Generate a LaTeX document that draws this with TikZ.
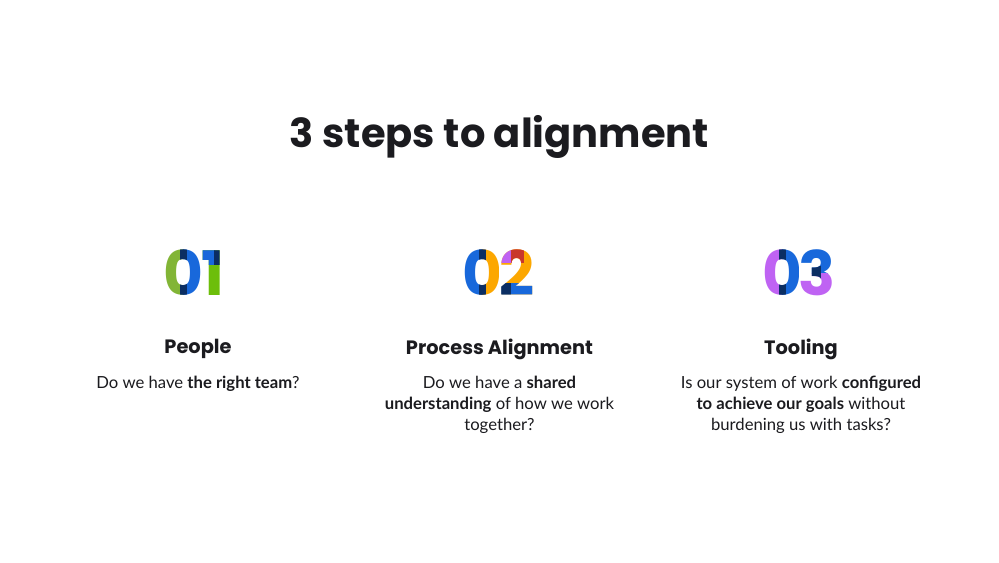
\documentclass[tikz,border=0pt]{standalone}
\usepackage{fontspec}
\setmainfont{Lato}
\newfontfamily\headfont{Poppins}[UprightFont=* Bold,BoldFont=* Bold]
\definecolor{ink}{HTML}{1B1B1F}
\definecolor{cgreen}{HTML}{82B536}
\definecolor{clime}{HTML}{6DBE0A}
\definecolor{cblue}{HTML}{1868DB}
\definecolor{cnavy}{HTML}{0B2E63}
\definecolor{corange}{HTML}{FCA700}
\definecolor{cpink}{HTML}{BF63F3}
\definecolor{cred}{HTML}{C9372C}
\tikzset{
  digit/.style={font=\headfont\fontsize{46}{46}\selectfont, inner sep=0pt, anchor=center},
  heading/.style={font=\headfont\fontsize{14.5}{18}\selectfont, text=ink},
  body/.style={font=\fontsize{12.5}{16}\selectfont, text=ink, align=center}
}
% one digit, painted in a colour inside a clip box
\newcommand{\paintdigit}[5]{%
  \begin{scope}\clip #4; \node[digit,text=#5] at (#1,#2) {#3};\end{scope}}
\begin{document}
\begin{tikzpicture}[x=0.75pt,y=-0.75pt]
\useasboundingbox[fill=white] (0,0) rectangle (999,562);
\node[font=\headfont\fontsize{30}{34}\selectfont, text=ink] (title) at (499.5,137) {3 steps to alignment};
% 01
\paintdigit{183}{273}{0}{(150,230) rectangle (183,310)}{cgreen}
\paintdigit{183}{273}{0}{(183,230) rectangle (200,310)}{cblue}
\paintdigit{183}{273}{0}{(180,230) rectangle (186,310)}{cnavy}
\paintdigit{213}{273}{1}{(200,230) rectangle (240,310)}{clime}
\paintdigit{213}{273}{1}{(200,230) rectangle (214,264)}{cblue}
\paintdigit{213}{273}{1}{(214,230) rectangle (240,264)}{cnavy}
% 02
\paintdigit{482}{273}{0}{(460,230) rectangle (482,310)}{cblue}
\paintdigit{482}{273}{0}{(482,230) rectangle (498,310)}{corange}
\paintdigit{482}{273}{0}{(479,230) rectangle (485,310)}{cnavy}
\paintdigit{517}{273}{2}{(498,230) rectangle (545,310)}{corange}
\paintdigit{517}{273}{2}{(498,283) rectangle (545,310)}{cblue}
\paintdigit{517}{273}{2}{(498,283) rectangle (510,310)}{cnavy}
\paintdigit{517}{273}{2}{(498,230) rectangle (511,262)}{cpink}
\paintdigit{517}{273}{2}{(511,230) rectangle (523,262)}{cred}
% 03
\paintdigit{782}{273}{0}{(760,230) rectangle (782,310)}{cpink}
\paintdigit{782}{273}{0}{(782,230) rectangle (798,310)}{cblue}
\paintdigit{782}{273}{0}{(779,230) rectangle (785,310)}{cnavy}
\paintdigit{817}{273}{3}{(798,230) rectangle (845,273)}{cblue}
\paintdigit{817}{273}{3}{(798,273) rectangle (845,310)}{cpink}
\paintdigit{817}{273}{3}{(798,266) rectangle (820,279)}{cnavy}
% columns
\node[heading] (h1) at (198,349) {People};
\node[heading] (h2) at (499.5,349) {Process Alignment};
\node[heading] (h3) at (801,349) {Tooling};
\node[body, anchor=north] (t1) at (198,371) {Do we have \textbf{the right team}?};
\node[body, anchor=north] (t2) at (499.5,371) {Do we have a \textbf{shared}\\\textbf{understanding} of how we work\\together?};
\node[body, anchor=north] (t3) at (801,371) {Is our system of work \textbf{configured}\\\textbf{to achieve our goals} without\\burdening us with tasks?};
\end{tikzpicture}
\end{document}
